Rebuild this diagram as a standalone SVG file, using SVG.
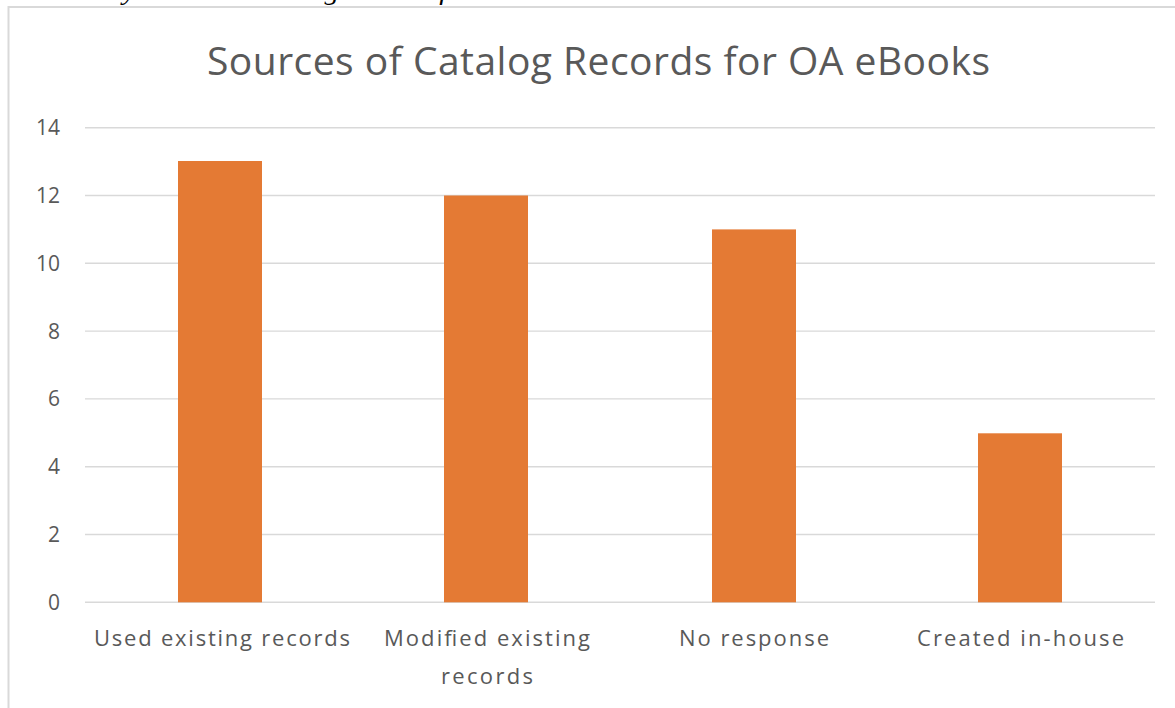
<svg xmlns="http://www.w3.org/2000/svg" width="1175" height="708" viewBox="0 0 1175 708">
<style>
.grid{stroke:#d9d9d9;stroke-width:1.4;fill:none}
.bar{fill:#e47a34}
.ax{font-family:"Open Sans","Liberation Sans",sans-serif;font-size:22px;fill:#595959}
.ylab{text-anchor:end;font-size:21px}
.xlab{text-anchor:middle}
.title{font-family:"Open Sans","Liberation Sans",sans-serif;font-size:39px;fill:#595959;text-anchor:middle}
.q{font-family:"Liberation Serif",serif;font-style:italic;font-size:26px;fill:#000}
</style>
<rect width="1175" height="708" fill="#fff"/>
<text class="q" x="17" y="0" textLength="653" lengthAdjust="spacingAndGlyphs">How did you obtain catalog records for these materials?</text>
<rect x="8.5" y="7" width="1200" height="750" fill="#fff" stroke="#d9d9d9" stroke-width="2"/>
<text id="title" class="title" x="598.5" y="75" textLength="783">Sources of Catalog Records for OA eBooks</text>
<g id="gridlines">
<line class="grid" x1="85" y1="127.7" x2="1155" y2="127.7"/>
<line class="grid" x1="85" y1="195.5" x2="1155" y2="195.5"/>
<line class="grid" x1="85" y1="263.3" x2="1155" y2="263.3"/>
<line class="grid" x1="85" y1="331.1" x2="1155" y2="331.1"/>
<line class="grid" x1="85" y1="398.9" x2="1155" y2="398.9"/>
<line class="grid" x1="85" y1="466.7" x2="1155" y2="466.7"/>
<line class="grid" x1="85" y1="534.5" x2="1155" y2="534.5"/>
<line class="grid" x1="85" y1="602.3" x2="1155" y2="602.3"/>
</g>
<g id="y-axis" class="ax ylab">
<text x="60" y="135">14</text>
<text x="60" y="203">12</text>
<text x="60" y="270.5">10</text>
<text x="60" y="338.5">8</text>
<text x="60" y="406">6</text>
<text x="60" y="474">4</text>
<text x="60" y="541.5">2</text>
<text x="60" y="609.5">0</text>
</g>
<g id="bar-used"><rect class="bar" x="178" y="161" width="84" height="441.3"/></g>
<g id="bar-modified"><rect class="bar" x="444" y="195.5" width="84" height="406.8"/></g>
<g id="bar-noresponse"><rect class="bar" x="712" y="229.4" width="84" height="372.9"/></g>
<g id="bar-created"><rect class="bar" x="978" y="433.3" width="84" height="169"/></g>
<g id="x-axis" class="ax xlab">
<text x="222" y="646" textLength="256">Used existing records</text>
<text x="487" y="646" textLength="206">Modified existing</text>
<text x="487" y="684" textLength="92">records</text>
<text x="754" y="646" textLength="150">No response</text>
<text x="1020.5" y="646" textLength="207">Created in-house</text>
</g>
</svg>
